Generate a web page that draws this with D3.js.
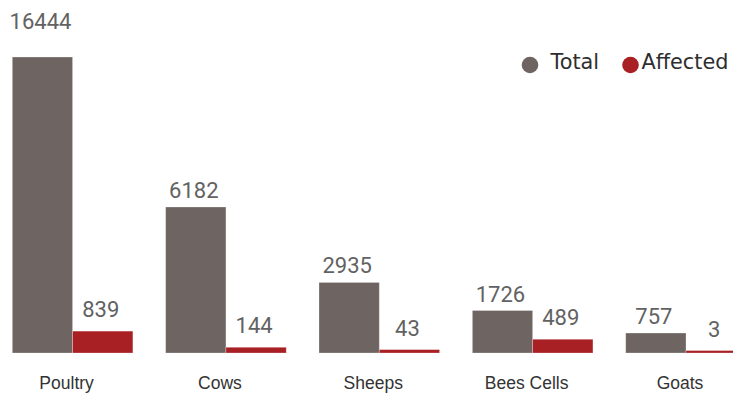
<!DOCTYPE html>
<html><head><meta charset="utf-8">
<script src="https://cdn.jsdelivr.net/npm/d3@7"></script>
<style>html,body{margin:0;padding:0;background:#fff;overflow:hidden}</style>
</head><body>
<svg id="chart" width="733" height="394"></svg>
<script>
const categories = ["Poultry", "Cows", "Sheeps", "Bees Cells", "Goats"];
const seriesNames = ["Total", "Affected"];
const totalValues = [16444, 6182, 2935, 1726, 757];
const affectedValues = [839, 144, 43, 489, 3];
const colors = ["#6e6461", "#a82024"];

const svg = d3.select("#chart");
const baseline = 353;
const yMax = 12640;

const x0 = d3.scaleBand().domain(categories)
  .range([12.3, 746.3])
  .paddingInner(0.2136).paddingOuter(0).align(0);
const x1 = d3.scaleBand().domain(seriesNames).range([0, x0.bandwidth()]).padding(0);
const y = d3.scaleLinear().domain([0, yMax]).range([350.6, 57]).clamp(true);
const color = d3.scaleOrdinal().domain(seriesNames).range(colors);

const rows = categories.map((c, i) => ({
  cat: c,
  vals: [{s: "Total", v: totalValues[i]}, {s: "Affected", v: affectedValues[i]}]
}));

const g = svg.selectAll("g.grp").data(rows).join("g")
  .attr("class", "grp")
  .attr("transform", d => `translate(${x0(d.cat)},0)`);

g.selectAll("rect").data(d => d.vals).join("rect")
  .attr("x", d => x1(d.s))
  .attr("y", d => y(d.v))
  .attr("width", x1.bandwidth())
  .attr("height", d => baseline - y(d.v))
  .attr("fill", d => color(d.s))
  .attr("stroke", "#ffffff")
  .attr("stroke-opacity", 0.35)
  .attr("stroke-width", 0.8);

g.selectAll("text.val").data(d => d.vals).join("text")
  .attr("class", "val")
  .attr("x", d => x1(d.s) + x1.bandwidth() / 2 - 2)
  .attr("y", d => d.v > yMax ? 29 : y(d.v) - (d.s === "Total" ? 9 : 14))
  .attr("text-anchor", "middle")
  .attr("font-family", "Roboto, 'Open Sans', sans-serif")
  .attr("font-size", 22)
  .attr("fill", "#626262")
  .text(d => d.v);

g.append("text")
  .attr("x", x0.bandwidth() / 2 - 6)
  .attr("y", 389)
  .attr("text-anchor", "middle")
  .attr("font-family", "'Liberation Sans', Arial, sans-serif")
  .attr("font-size", 17.5)
  .attr("fill", "#333")
  .text(d => d.cat);

// legend
const legendX = [530, 630.5];
const lg = svg.selectAll("g.leg").data(seriesNames).join("g")
  .attr("class", "leg")
  .attr("transform", (d, i) => `translate(${legendX[i]},65)`);
lg.append("circle").attr("r", 8.3).attr("fill", d => color(d));
lg.append("text")
  .attr("x", (d, i) => i === 0 ? 20.5 : 11)
  .attr("y", 3.6)
  .attr("font-family", "'DejaVu Sans', sans-serif")
  .attr("font-size", 20.8)
  .attr("fill", "#2e2e2e")
  .text(d => d);
</script>
</body></html>
